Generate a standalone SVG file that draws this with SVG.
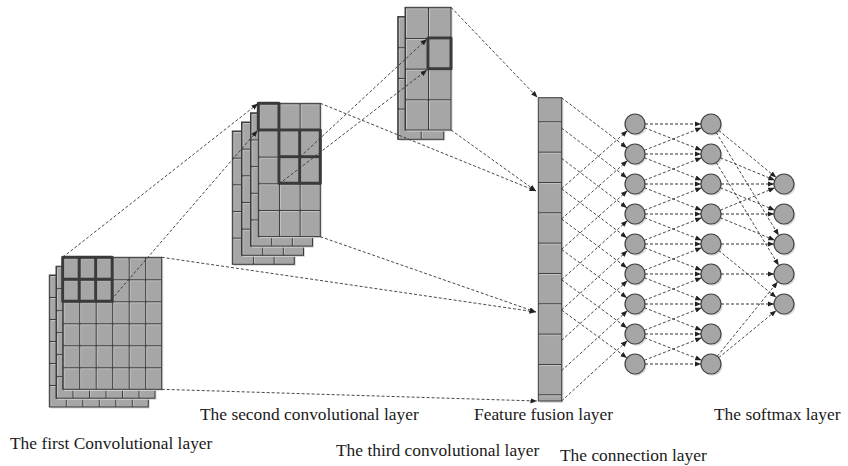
<svg xmlns="http://www.w3.org/2000/svg" xmlns:xlink="http://www.w3.org/1999/xlink" width="848" height="466" viewBox="0 0 848 466">
<style>
.bd{stroke:#3c3c3c;stroke-width:1;fill:none}
.thk{stroke:#3a3a3a;stroke-width:3;fill:none;stroke-linejoin:round}
.nd{fill:#a6a6a6;stroke:#444;stroke-width:1.2}
.sh{fill:#d6d6d6}
.c{stroke:#333;stroke-width:0.9;stroke-dasharray:3 2;fill:none;marker-end:url(#ah)}
.h{stroke:#333;stroke-width:1.1;stroke-dasharray:3 2;fill:none;marker-end:url(#ah)}
.t{font-family:"Liberation Serif","Times New Roman",serif;font-size:17.4px;fill:#1a1a1a}
</style>
<defs>
<marker id="ah" viewBox="0 0 10 10" refX="10" refY="5" markerWidth="6.5" markerHeight="6.5" markerUnits="userSpaceOnUse" orient="auto">
<path d="M0,1 L10,5 L0,9 z" fill="#222"/>
</marker>
<pattern id="p1" patternUnits="userSpaceOnUse" width="16.5" height="22">
<rect width="16.5" height="22" fill="#a6a6a6"/>
<path d="M1.5,1.5H15.5M1.5,1.5V21" stroke="#c4c4c4" stroke-width="1"/>
<path d="M0,0.5H16.5M0.5,0V22" stroke="#3c3c3c" stroke-width="1"/>
</pattern>
<pattern id="p2" patternUnits="userSpaceOnUse" width="20.667" height="26.667">
<rect width="20.667" height="26.667" fill="#a6a6a6"/>
<path d="M1.5,1.5H19.5M1.5,1.5V25.5" stroke="#c4c4c4" stroke-width="1"/>
<path d="M0,0.5H20.667M0.5,0V26.667" stroke="#3c3c3c" stroke-width="1"/>
</pattern>
<pattern id="p3" patternUnits="userSpaceOnUse" width="23" height="30.67">
<rect width="23" height="30.67" fill="#a6a6a6"/>
<path d="M1.5,1.5H22M1.5,1.5V29.5" stroke="#c4c4c4" stroke-width="1"/>
<path d="M0,0.5H23M0.5,0V30.67" stroke="#3c3c3c" stroke-width="1"/>
</pattern>
<pattern id="p4" patternUnits="userSpaceOnUse" width="23.4" height="30.33">
<rect width="23.4" height="30.33" fill="#a6a6a6"/>
<path d="M1.5,1.5H22.4" stroke="#c4c4c4" stroke-width="1"/>
<path d="M0,0.5H23.4" stroke="#3c3c3c" stroke-width="1"/>
</pattern>
<g id="g1"><rect x="1.5" y="1.5" width="99" height="132" class="sh"/><rect width="99" height="132" fill="url(#p1)"/><rect width="99" height="132" class="bd"/></g>
<g id="g2"><rect x="1.5" y="1.5" width="62" height="133.3" class="sh"/><rect width="62" height="133.3" fill="url(#p2)"/><rect width="62" height="133.3" class="bd"/></g>
<g id="g3"><rect x="1.5" y="1.5" width="46" height="122.7" class="sh"/><rect width="46" height="122.7" fill="url(#p3)"/><rect width="46" height="122.7" class="bd"/></g>
<g id="nd"><circle cx="1.5" cy="1.8" r="10" class="sh"/><circle r="10" class="nd"/></g>
</defs>
<rect width="848" height="466" fill="#fff"/>

<g id="conv1">
<use href="#g1" x="49.3" y="275"/>
<use href="#g1" x="56" y="266.2"/>
<use href="#g1" x="62.7" y="257.3"/>
<path class="thk" d="M62.7,257.3h49.5v44h-49.5z M79.2,257.3v44 M95.7,257.3v44 M62.7,279.3h49.5"/>
</g>
<g id="conv2">
<use href="#g2" x="232.3" y="131"/>
<use href="#g2" x="241.5" y="122"/>
<use href="#g2" x="250.5" y="112.8"/>
<use href="#g2" x="258.3" y="103.3"/>
<path class="thk" d="M258.3,103.3h20.7v26.7h-20.7z M279,130h41.3v53.3h-41.3z M299.7,130v53.3 M279,156.7h41.3"/>
</g>
<g id="conv3">
<use href="#g3" x="397.7" y="16.6"/>
<use href="#g3" x="405" y="7.3"/>
<path class="thk" d="M428,38h23v30.7h-23z"/>
</g>
<g id="fusion">
<rect x="540" y="99.5" width="23.4" height="303.3" class="sh"/>
<rect x="538.3" y="97.7" width="23.4" height="303.3" fill="url(#p4)"/>
<rect x="538.3" y="97.7" width="23.4" height="303.3" class="bd"/>
</g>

<g id="connection1">
<use id="a0" href="#nd" x="635" y="124"/>
<use id="a1" href="#nd" x="635" y="154"/>
<use id="a2" href="#nd" x="635" y="184"/>
<use id="a3" href="#nd" x="635" y="214"/>
<use id="a4" href="#nd" x="635" y="244"/>
<use id="a5" href="#nd" x="635" y="274"/>
<use id="a6" href="#nd" x="635" y="304"/>
<use id="a7" href="#nd" x="635" y="334"/>
<use id="a8" href="#nd" x="635" y="364"/>
</g>
<g id="connection2">
<use id="b0" href="#nd" x="711" y="124"/>
<use id="b1" href="#nd" x="711" y="154"/>
<use id="b2" href="#nd" x="711" y="184"/>
<use id="b3" href="#nd" x="711" y="214"/>
<use id="b4" href="#nd" x="711" y="244"/>
<use id="b5" href="#nd" x="711" y="274"/>
<use id="b6" href="#nd" x="711" y="304"/>
<use id="b7" href="#nd" x="711" y="334"/>
<use id="b8" href="#nd" x="711" y="364"/>
</g>
<g id="softmax">
<use id="s0" href="#nd" x="784" y="184"/>
<use id="s1" href="#nd" x="784" y="214"/>
<use id="s2" href="#nd" x="784" y="244"/>
<use id="s3" href="#nd" x="784" y="274"/>
<use id="s4" href="#nd" x="784" y="304"/>
</g>

<g id="connectors">
<path class="c" d="M62.7,257.3L258,103.6"/>
<path class="c" d="M111,300L257.5,130.5"/>
<path class="c" d="M161.7,257.3L536,312"/>
<path class="c" d="M161.7,389.3L537,401"/>
<path class="c" d="M320.3,103.3L536,191"/>
<path class="c" d="M320.3,236.7L536,312"/>
<path class="c" d="M300,157L427,39"/>
<path class="c" d="M279,184L427,70"/>
<path class="c" d="M451,7.3L537.5,97.5"/>
<path class="c" d="M451,130L536,191"/>

<path class="c" d="M561.5,97.7L627,147.9"/>
<path class="c" d="M561.5,128L627,177.9"/>
<path class="c" d="M561.5,158.3L627,207.9"/>
<path class="c" d="M561.5,188.7L627,237.9"/>
<path class="c" d="M561.5,219L627,267.9"/>
<path class="c" d="M561.5,249.4L627,297.9"/>
<path class="c" d="M561.5,279.7L627,327.9"/>
<path class="c" d="M561.5,310L627,357.9"/>
<path class="c" d="M561.5,188.7L627.5,130.6"/>
<path class="c" d="M561.5,219L627.5,160.6"/>
<path class="c" d="M561.5,249.4L627.5,190.6"/>
<path class="c" d="M561.5,279.7L627.5,220.6"/>
<path class="c" d="M561.5,310L627.5,250.6"/>
<path class="c" d="M561.5,340.4L627.5,280.6"/>
<path class="c" d="M561.5,370.7L627.5,310.6"/>
<path class="c" d="M561.5,401L627.5,340.6"/>

<path class="h" d="M645,124H701"/>
<path class="h" d="M645,154H701"/>
<path class="h" d="M645,184H701"/>
<path class="h" d="M645,214H701"/>
<path class="h" d="M645,244H701"/>
<path class="h" d="M645,274H701"/>
<path class="h" d="M645,304H701"/>
<path class="h" d="M645,334H701"/>
<path class="h" d="M645,364H701"/>
<path class="c" d="M644.3,127.7L701.7,150.3"/>
<path class="c" d="M644.3,157.7L701.7,180.3"/>
<path class="c" d="M644.3,187.7L701.7,210.3"/>
<path class="c" d="M644.3,217.7L701.7,240.3"/>
<path class="c" d="M644.3,247.7L701.7,270.3"/>
<path class="c" d="M644.3,277.7L701.7,300.3"/>
<path class="c" d="M644.3,307.7L701.7,330.3"/>
<path class="c" d="M644.3,337.7L701.7,360.3"/>
<path class="c" d="M644.3,150.3L701.7,127.7"/>
<path class="c" d="M644.3,180.3L701.7,157.7"/>
<path class="c" d="M644.3,210.3L701.7,187.7"/>
<path class="c" d="M644.3,240.3L701.7,217.7"/>
<path class="c" d="M644.3,270.3L701.7,247.7"/>
<path class="c" d="M644.3,300.3L701.7,277.7"/>
<path class="c" d="M644.3,330.3L701.7,307.7"/>
<path class="c" d="M644.3,360.3L701.7,337.7"/>

<path class="c" d="M718.7,130.4L776.3,177.6"/>
<path class="c" d="M716.2,132.5L778.8,235.5"/>
<path class="c" d="M720.3,157.8L774.8,180.2"/>
<path class="c" d="M716.2,162.5L778.8,265.5"/>
<path class="h" d="M721,184H774"/>
<path class="c" d="M720.3,187.8L774.8,210.2"/>
<path class="c" d="M720.3,210.2L774.8,187.8"/>
<path class="h" d="M721,214H774"/>
<path class="c" d="M720.3,217.8L774.8,240.2"/>
<path class="h" d="M721,244H774"/>
<path class="c" d="M718.7,250.4L776.3,297.6"/>
<path class="h" d="M721,274H774"/>
<path class="h" d="M721,304H774"/>
<path class="c" d="M717.3,356.2L777.7,281.8"/>
<path class="c" d="M718.7,357.7L776.3,310.4"/>
</g>

<g id="labels">
<text class="t" x="200" y="420">The second convolutional layer</text>
<text class="t" x="474" y="420">Feature fusion layer</text>
<text class="t" x="714" y="420">The softmax layer</text>
<text class="t" x="10" y="449">The first Convolutional layer</text>
<text class="t" x="336" y="456">The third convolutional layer</text>
<text class="t" x="560" y="461">The connection layer</text>
</g>
</svg>
